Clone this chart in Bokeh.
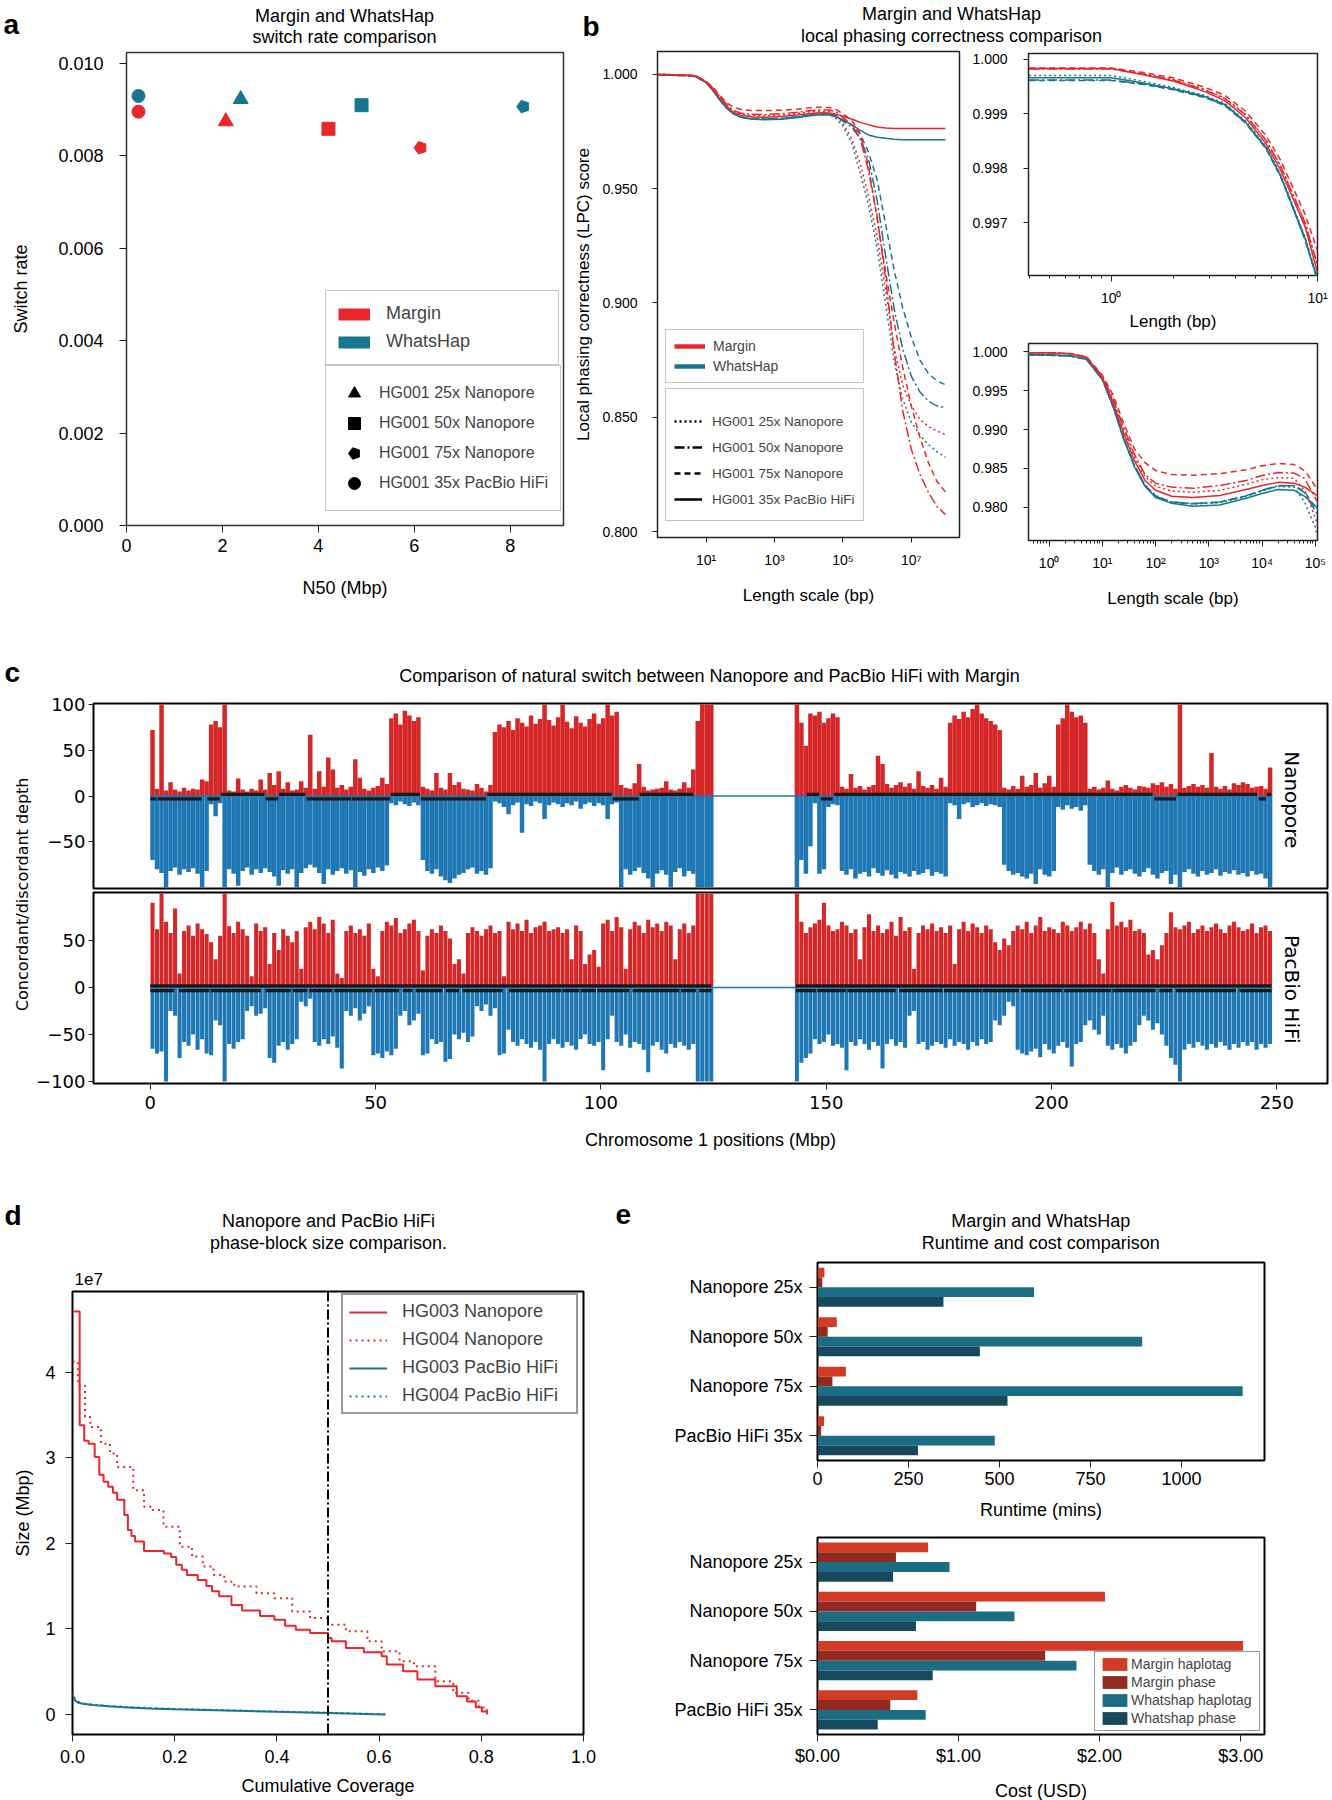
import math
from bokeh.plotting import figure
from bokeh.models import (Range1d, FixedTicker, NumeralTickFormatter, Legend, LegendItem,
                          Label, LogTicker, ColumnDataSource, FactorRange, Span)
from bokeh.layouts import row, column
from bokeh.transform import dodge
from bokeh.embed import file_html
from bokeh.resources import INLINE

# ======================= DATA =======================
# --- panel a: switch rate vs N50 ---
DATASETS = ["HG001 25x Nanopore", "HG001 50x Nanopore", "HG001 75x Nanopore", "HG001 35x PacBio HiFi"]
DATASET_SHAPES = ["triangle", "square", "pentagon", "circle"]
MARGIN_N50_MBP = [2.07, 4.21, 6.13, 0.25]
MARGIN_SWITCH_RATE = [0.00874, 0.00858, 0.00817, 0.00895]
WHATSHAP_N50_MBP = [2.38, 4.90, 8.27, 0.25]
WHATSHAP_SWITCH_RATE = [0.00922, 0.00909, 0.00906, 0.00929]

# --- panel b: local phasing correctness ---
LPC_LENGTH_BP = [0.4, 1, 2.5, 5, 10, 16, 25, 40, 63, 100, 200, 500, 1600, 5000, 1e4, 2e4, 4e4, 6.3e4,
                 1e5, 1.8e5, 3.2e5, 5.6e5, 1e6, 1.8e6, 3.2e6, 5.6e6, 1e7, 1.8e7, 3.2e7, 5.6e7, 1e8]
LPC_MARGIN_25X = [0.99990, 0.99988, 0.99975, 0.99930, 0.99680, 0.99370, 0.99000, 0.98640, 0.98397, 0.98270,
                  0.98209, 0.98193, 0.98219, 0.98295, 0.98356, 0.98382, 0.98372, 0.98219, 0.97863, 0.972,
                  0.961, 0.947, 0.929, 0.905, 0.880, 0.864, 0.855, 0.849, 0.846, 0.844, 0.8424]
LPC_MARGIN_50X = [0.99990, 0.99988, 0.99975, 0.99930, 0.99685, 0.99390, 0.99030, 0.98680, 0.98422, 0.98310,
                  0.98260, 0.98244, 0.98280, 0.98346, 0.98410, 0.98448, 0.98440, 0.98372, 0.98117, 0.978,
                  0.972, 0.958, 0.938, 0.910, 0.878, 0.853, 0.836, 0.825, 0.817, 0.811, 0.8074]
LPC_MARGIN_75X = [0.99990, 0.99988, 0.99978, 0.99940, 0.99700, 0.99440, 0.99084, 0.98753, 0.98575, 0.98473,
                  0.98422, 0.98412, 0.98433, 0.98483, 0.98534, 0.98565, 0.98550, 0.98473, 0.98270, 0.980,
                  0.974, 0.960, 0.937, 0.913, 0.891, 0.872, 0.855, 0.841, 0.830, 0.822, 0.8173]
LPC_MARGIN_HIFI = [0.99990, 0.99988, 0.99975, 0.99930, 0.99669, 0.99338, 0.98957, 0.98600, 0.98346, 0.98219,
                   0.98142, 0.98127, 0.98153, 0.98229, 0.98280, 0.98321, 0.98310, 0.98260, 0.98168, 0.9805,
                   0.9790, 0.9780, 0.9770, 0.9765, 0.9763, 0.9763, 0.9763, 0.9763, 0.9763, 0.9763, 0.9763]
LPC_WHATSHAP_25X = [0.99965, 0.99962, 0.99950, 0.99910, 0.99650, 0.99300, 0.98900, 0.98540, 0.98290, 0.98150,
                    0.98070, 0.98041, 0.98060, 0.98140, 0.98210, 0.98270, 0.98260, 0.98066, 0.97740, 0.970,
                    0.957, 0.943, 0.924, 0.899, 0.874, 0.858, 0.848, 0.842, 0.838, 0.835, 0.8325]
LPC_WHATSHAP_50X = [0.99960, 0.99958, 0.99946, 0.99905, 0.99640, 0.99290, 0.98890, 0.98530, 0.98280, 0.98140,
                    0.98066, 0.98050, 0.98070, 0.98150, 0.98220, 0.98280, 0.98275, 0.98190, 0.97950, 0.977,
                    0.972, 0.963, 0.945, 0.920, 0.897, 0.880, 0.868, 0.861, 0.857, 0.855, 0.8542]
LPC_WHATSHAP_75X = [0.99958, 0.99956, 0.99944, 0.99905, 0.99645, 0.99295, 0.98895, 0.98535, 0.98285, 0.98145,
                    0.98070, 0.98045, 0.98065, 0.98145, 0.98215, 0.98275, 0.98280, 0.98200, 0.98000, 0.978,
                    0.974, 0.966, 0.954, 0.934, 0.914, 0.898, 0.885, 0.875, 0.869, 0.866, 0.8642]
LPC_WHATSHAP_HIFI = [0.99965, 0.99962, 0.99950, 0.99910, 0.99644, 0.99288, 0.98880, 0.98524, 0.98270, 0.98127,
                     0.98051, 0.98015, 0.98031, 0.98117, 0.98178, 0.98229, 0.98219, 0.98142, 0.98015, 0.9780,
                     0.9755, 0.9735, 0.9725, 0.9720, 0.9716, 0.9714, 0.9714, 0.9714, 0.9714, 0.9714, 0.9714]
# zoomed inset (top right)
LPC_ZOOM_LENGTH_BP = [0.4, 1.0, 1.41, 2.0, 2.82, 3.55, 4.47, 5.62, 6.61, 7.59, 8.71, 10.0]
LPC_ZOOM_MARGIN_25X = [0.99983, 0.99983, 0.99974, 0.99963, 0.99945, 0.99929, 0.99899, 0.99852, 0.99805, 0.99753, 0.99700, 0.99620]
LPC_ZOOM_MARGIN_50X = [0.99982, 0.99982, 0.99973, 0.99962, 0.99944, 0.99928, 0.99898, 0.99851, 0.99804, 0.99752, 0.99699, 0.99622]
LPC_ZOOM_MARGIN_75X = [0.99984, 0.99984, 0.99976, 0.99966, 0.99949, 0.99934, 0.99905, 0.99860, 0.99815, 0.99765, 0.99715, 0.99648]
LPC_ZOOM_MARGIN_HIFI = [0.99983, 0.99983, 0.99972, 0.99960, 0.99941, 0.99924, 0.99893, 0.99845, 0.99797, 0.99745, 0.99692, 0.99608]
LPC_ZOOM_WHATSHAP_25X = [0.99970, 0.99970, 0.99960, 0.99948, 0.99934, 0.99919, 0.99887, 0.99840, 0.99789, 0.99731, 0.99673, 0.99598]
LPC_ZOOM_WHATSHAP_50X = [0.99962, 0.99962, 0.99955, 0.99945, 0.99931, 0.99916, 0.99884, 0.99837, 0.99786, 0.99728, 0.99669, 0.99594]
LPC_ZOOM_WHATSHAP_75X = [0.99961, 0.99961, 0.99954, 0.99944, 0.99930, 0.99915, 0.99883, 0.99836, 0.99785, 0.99727, 0.99668, 0.99593]
LPC_ZOOM_WHATSHAP_HIFI = [0.99966, 0.99966, 0.99957, 0.99946, 0.99932, 0.99917, 0.99885, 0.99838, 0.99787, 0.99729, 0.99670, 0.99595]

# --- panel c: concordant / discordant depth per 1 Mbp bin, chromosome 1 ---
P_ARM_START_MBP = 0
Q_ARM_START_MBP = 143
NANO_CONC_P = [72, 8, 100, 6, 15, 7, 5, 9, 6, 8, 7, 18, 16,
               78, 82, 75, 100,
               6, 5, 19, 7, 5, 8, 6, 18, 7, 25, 12, 27, 8, 15, 6, 7, 16, 9, 67,
               8, 27, 10, 42, 29, 9, 12, 7, 10, 40, 20, 8, 6, 9, 11, 20, 13,
               85, 90, 78, 93, 88, 82, 86,
               10, 8, 6, 25, 9, 7, 25, 12, 15, 8, 7, 6, 13, 9, 5, 12,
               70, 78, 75, 82, 72, 85, 80, 76, 88, 79, 84, 100, 83, 77, 86, 100, 81, 74, 87, 80, 76, 84, 90, 79, 85, 100, 88, 92,
               12, 9, 8, 14, 35, 10, 6, 7, 8, 9, 16, 7, 6, 8, 15, 9, 29,
               82, 100, 100, 100]
NANO_DISC_P = [70, 80, 84, 100, 82, 78, 86, 80, 83, 79, 85, 100, 82,
               9, 22, 8, 100,
               80, 85, 98, 82, 78, 86, 80, 84, 79, 83, 88, 98, 81, 85, 80, 100, 84, 79, 75,
               78, 84, 96, 80, 86, 82, 79, 85, 81, 100, 83, 87, 80, 84, 78, 82, 76,
               8, 10, 6, 9, 11, 7, 10,
               70, 82, 85, 80, 88, 92, 95, 90, 86, 84, 80, 78, 85, 82, 86, 79,
               6, 8, 12, 20, 10, 7, 40, 9, 11, 6, 8, 25, 10, 7, 9, 12, 8, 10, 6, 14, 9, 7, 11, 8, 10, 25, 9, 7,
               100, 80, 86, 82, 78, 84, 90, 100, 85, 81, 86, 100, 83, 79, 88, 82, 85,
               100, 100, 100, 100]
NANO_CONC_Q = [100, 80, 55, 90,
               88, 92, 80, 85, 90, 86,
               10, 8, 24, 9, 11, 7, 10, 12, 44, 35, 13, 9, 12, 15, 10, 14, 8, 27, 11, 9, 12, 8, 20, 10,
               80, 88, 84, 92, 86, 95, 100, 90, 85, 82, 78, 72,
               9, 7, 11, 8, 22, 10, 12, 25, 9, 14, 22, 10,
               78, 85, 100, 92, 86, 88, 80,
               8, 10, 7, 9, 17, 8, 6, 10, 12, 9, 7, 11, 10, 9, 14, 12, 15, 10, 13, 8, 100, 9, 11, 13, 10,
               12, 9, 47, 10, 8, 11, 7, 14, 12, 15, 13, 9, 10, 11, 8, 31]
NANO_DISC_Q = [100, 70, 85, 55,
               8, 85, 80, 12, 9, 10,
               82, 86, 80, 90, 85, 83, 88, 79, 84, 87, 81, 86, 90, 83, 85, 88, 82, 86, 84, 80, 87, 83, 85, 88,
               8, 10, 25, 9, 7, 12, 10, 8, 11, 9, 10, 12,
               75, 82, 86, 84, 88, 90, 85, 96, 80, 86, 88, 82,
               12, 15, 10, 14, 12, 16, 10,
               75, 82, 86, 80, 100, 84, 78, 86, 82, 80, 85, 88, 83, 79, 86, 90, 84, 82, 96, 86, 100, 83, 80, 85, 88,
               82, 86, 84, 80, 87, 83, 85, 81, 86, 84, 88, 82, 86, 85, 90, 100]
HIFI_CONC_P = [90, 62, 100, 70, 58, 84, 15, 60, 66, 55,
               68, 62, 57, 48, 30, 55, 100, 65, 58, 70,
               62, 55, 12, 68, 60, 64, 25, 58, 40, 62,
               55, 48, 60, 20, 64, 70, 62, 75, 68, 58,
               72, 15, 10, 60, 66, 58, 62, 55, 68, 20,
               12, 60, 70, 66, 74, 58, 62, 68, 72, 60,
               18, 55, 62, 58, 66, 60, 52, 25, 30, 15,
               58, 64, 60, 55, 62, 66, 58, 60, 12, 70,
               62, 68, 60, 72, 58, 64, 66, 70, 60, 62,
               64, 58, 62, 30, 66, 60, 25, 35, 40, 22,
               68, 72, 60, 75, 64, 20, 62, 70, 66, 58,
               72, 64, 68, 60, 70, 66, 30, 62, 68, 58,
               66, 100, 100, 100, 100]
HIFI_DISC_P = [65, 70, 68, 100, 25, 30, 75, 58, 62, 50,
               66, 55, 70, 72, 35, 40, 100, 60, 65, 58,
               55, 25, 20, 30, 28, 22, 75, 80, 62, 58,
               66, 60, 55, 15, 20, 12, 58, 62, 55, 60,
               52, 64, 86, 25, 30, 22, 35, 28, 20, 72,
               70, 75, 68, 72, 65, 30, 25, 40, 35, 28,
               72, 70, 55, 60, 58, 79, 76, 50, 55, 48,
               58, 52, 20, 25, 18, 30, 22, 72, 70, 45,
               58, 62, 55, 60, 64, 58, 66, 100, 60, 55,
               60, 64, 58, 62, 66, 55, 50, 60, 62, 58,
               88, 55, 30, 58, 62, 50, 64, 58, 60, 66,
               90, 62, 58, 66, 70, 60, 64, 58, 62, 66,
               60, 100, 100, 100, 100]
HIFI_CONC_Q = [100, 70, 58, 64, 68, 72, 90, 66, 60, 62,
               70, 66, 58, 62, 30, 64, 78, 60, 66, 58,
               62, 70, 55, 75, 60, 64, 20, 58, 66, 62,
               68, 60, 64, 58, 66, 25, 62, 70, 60, 68,
               64, 58, 66, 62, 48, 40, 52, 45, 60, 66,
               62, 70, 58, 66, 75, 60, 64, 62, 58, 70,
               66, 60, 64, 70, 62, 68, 58, 30, 15, 62,
               91, 66, 70, 64, 72, 60, 62, 58, 35, 40,
               30, 45, 58, 80, 64, 62, 66, 70, 58, 62,
               66, 60, 64, 68, 62, 58, 66, 70, 64, 60,
               62, 68, 58, 64, 66, 60]
HIFI_DISC_Q = [100, 80, 75, 70, 55, 60, 58, 50, 62, 60,
               64, 88, 58, 62, 55, 60, 66, 58, 62, 86,
               60, 55, 62, 58, 64, 30, 25, 60, 58, 66,
               62, 58, 60, 64, 55, 62, 58, 60, 66, 58,
               62, 55, 60, 58, 35, 40, 30, 15, 20, 66,
               70, 72, 68, 65, 74, 60, 66, 70, 62, 58,
               64, 84, 60, 58, 40, 35, 45, 50, 30, 62,
               66, 60, 64, 70, 62, 58, 40, 30, 35, 45,
               38, 50, 62, 75, 82, 100, 66, 60, 64, 58,
               62, 66, 60, 64, 58, 62, 66, 60, 64, 58,
               62, 58, 66, 60, 64, 60]
# phase blocks (Mbp); level 1 = upper bar, 0 = lower bar
NANO_BLOCK_START = [0, 1.6, 12.7, 15.7, 25.6, 28.6, 34.7, 44.7, 53.4, 60.0, 74.8, 102.6, 108.6,
                    145.7, 148.8, 151.8, 222.8, 228.0, 246.0, 247.8]
NANO_BLOCK_END = [1.4, 11.4, 15.4, 25.3, 28.4, 34.4, 44.5, 53.2, 59.8, 74.5, 102.4, 108.4, 120.5,
                  148.4, 151.4, 222.4, 227.6, 245.6, 247.6, 248.8]
NANO_BLOCK_LEVEL = [0, 0, 0, 1, 0, 1, 0, 0, 1, 0, 1, 0, 1, 1, 0, 1, 0, 1, 0, 1]
HIFI_BLOCK_START = [0, 143.3,
                    0, 6.4, 13.4, 25.6, 31.6, 35.3, 40.8, 49.7, 56.0, 58.9, 65.6, 69.3, 79.6, 91.5, 95.5,
                    99.2, 107.0, 117.8, 121.8, 143.3, 148.0, 154.7, 166.2, 176.1, 184.7, 193.2, 202.8,
                    213.5, 223.9, 227.6, 241.7]
HIFI_BLOCK_END = [124.5, 248.8,
                  5.3, 13.1, 24.5, 31.2, 34.9, 40.4, 49.3, 55.2, 58.2, 64.8, 68.5, 78.2, 91.2, 95.2, 98.9,
                  106.3, 117.4, 121.1, 124.5, 147.7, 154.4, 165.4, 175.8, 184.5, 192.8, 202.4, 213.2,
                  223.1, 226.8, 240.9, 248.8]
HIFI_BLOCK_LEVEL = [1, 1] + [0] * 31

# --- panel d: phase-block size vs cumulative coverage (step corners) ---
HG003_NANO_COV = [0.0, 0.014, 0.023, 0.0315, 0.0434, 0.0524, 0.0608, 0.0699, 0.079, 0.0874,
                  0.1014, 0.1084, 0.1154, 0.1224, 0.1399, 0.179, 0.193, 0.203, 0.214, 0.224,
                  0.245, 0.262, 0.273, 0.287, 0.311, 0.332, 0.367, 0.395, 0.416, 0.437,
                  0.465, 0.5, 0.507, 0.535, 0.570, 0.605, 0.615, 0.647, 0.675, 0.710, 0.752,
                  0.772, 0.789, 0.801, 0.811]
HG003_NANO_SIZE = [4.71e7, 3.38e7, 3.20e7, 3.165e7, 3.01e7, 2.80e7, 2.72e7, 2.66e7, 2.59e7, 2.51e7,
                   2.33e7, 2.155e7, 2.085e7, 2.02e7, 1.91e7, 1.88e7, 1.84e7, 1.75e7, 1.69e7, 1.63e7,
                   1.57e7, 1.50e7, 1.44e7, 1.38e7, 1.28e7, 1.215e7, 1.15e7, 1.107e7, 1.037e7, 0.99e7,
                   0.951e7, 0.893e7, 0.854e7, 0.777e7, 0.726e7, 0.680e7, 0.583e7, 0.505e7, 0.408e7, 0.330e7,
                   0.214e7, 0.15e7, 0.085e7, 0.035e7, 0.0]
HG004_NANO_COV = [0.0, 0.0105, 0.0245, 0.035, 0.0524, 0.056, 0.0734, 0.0874, 0.1189, 0.14, 0.157, 0.178,
                  0.21, 0.234, 0.255, 0.276, 0.297, 0.311, 0.325, 0.36, 0.395, 0.43, 0.465, 0.5, 0.535,
                  0.577, 0.605, 0.64, 0.668, 0.71, 0.745, 0.775, 0.795, 0.811]
HG004_NANO_SIZE = [4.124e7, 3.845e7, 3.476e7, 3.359e7, 3.32e7, 3.165e7, 3.049e7, 2.893e7, 2.621e7, 2.427e7,
                   2.388e7, 2.194e7, 1.961e7, 1.845e7, 1.728e7, 1.631e7, 1.553e7, 1.515e7, 1.495e7, 1.417e7,
                   1.359e7, 1.204e7, 1.126e7, 1.049e7, 0.971e7, 0.854e7, 0.738e7, 0.621e7, 0.563e7, 0.388e7,
                   0.252e7, 0.16e7, 0.08e7, 0.0]
HG003_HIFI_COV = [0, 0.002, 0.005, 0.01, 0.02, 0.04, 0.07, 0.1, 0.15, 0.2, 0.3, 0.4, 0.5, 0.612]
HG003_HIFI_SIZE = [0.24e7, 0.20e7, 0.165e7, 0.14e7, 0.125e7, 0.11e7, 0.095e7, 0.085e7, 0.07e7, 0.06e7,
                   0.045e7, 0.03e7, 0.018e7, 0.0]
HG004_HIFI_COV = [0, 0.002, 0.005, 0.01, 0.02, 0.04, 0.07, 0.1, 0.15, 0.2, 0.3, 0.4, 0.5, 0.619]
HG004_HIFI_SIZE = [0.27e7, 0.22e7, 0.18e7, 0.15e7, 0.13e7, 0.115e7, 0.10e7, 0.09e7, 0.075e7, 0.065e7,
                   0.05e7, 0.035e7, 0.02e7, 0.0]
COVERAGE_THRESHOLD = 0.5

# --- panel e: runtime and cost ---
RUN_CATEGORIES = ["Nanopore 25x", "Nanopore 50x", "Nanopore 75x", "PacBio HiFi 35x"]
RUNTIME_MARGIN_HAPLOTAG = [19, 53, 78, 18]
RUNTIME_MARGIN_PHASE = [13, 28, 41, 10]
RUNTIME_WHATSHAP_HAPLOTAG = [595, 892, 1168, 487]
RUNTIME_WHATSHAP_PHASE = [346, 446, 522, 276]
COST_MARGIN_HAPLOTAG = [0.784, 2.038, 3.017, 0.708]
COST_MARGIN_PHASE = [0.556, 1.125, 1.614, 0.516]
COST_WHATSHAP_HAPLOTAG = [0.936, 1.396, 1.836, 0.767]
COST_WHATSHAP_PHASE = [0.536, 0.698, 0.817, 0.427]

# ======================= STYLE =======================
SANS = "Liberation Sans"
DJV = "DejaVu Sans"
RED = "#e8262b"
TEAL = "#17758f"
C_RED = "#d62728"
C_BLUE = "#1f77b4"
E_COLORS = ["#d23a28", "#912a20", "#1c6c84", "#17485c"]
DASH = {"25x": "2 3", "50x": "10 3 2 3", "75x": "6 4", "HiFi": "solid"}
NAN = float("nan")   # legend-only proxies carry no visible point


def fig(fw, fh, bl, br, bt, bb, **kw):
    p = figure(frame_width=fw, frame_height=fh, min_border_left=bl, min_border_right=br,
               min_border_top=bt, min_border_bottom=bb, output_backend="svg",
               toolbar_location=None, title=None, **kw)
    p.background_fill_color = "white"
    p.border_fill_color = "white"
    p.grid.visible = False
    return p


def blank(w, h):
    p = fig(w, h, 0, 0, 0, 0, x_range=Range1d(0, 1), y_range=Range1d(0, 1),
            x_axis_location=None, y_axis_location=None)
    p.outline_line_color = None
    return p


def style_axis(ax, font, tick_size, label_size=None, tick_out=6, standoff=6, label_standoff=10,
               label_font=None, minor_out=0):
    ax.axis_line_color = None
    ax.major_tick_in = 0
    ax.major_tick_out = tick_out
    ax.minor_tick_in = 0
    ax.minor_tick_out = minor_out
    ax.major_tick_line_color = "#222222"
    ax.minor_tick_line_color = "#222222"
    ax.major_label_text_font = font
    ax.major_label_text_font_size = f"{tick_size}px"
    ax.major_label_text_color = "black"
    ax.major_label_standoff = standoff
    ax.axis_label_text_font = label_font or font
    ax.axis_label_text_font_size = f"{label_size or tick_size}px"
    ax.axis_label_text_font_style = "normal"
    ax.axis_label_text_color = "black"
    ax.axis_label_standoff = label_standoff


def add_text(p, x, y, text, size, font=SANS, align="center", baseline="middle", bold=False, angle=0.0):
    p.add_layout(Label(x=x, y=y, x_units="screen", y_units="screen", text=text,
                       text_font=font, text_font_size=f"{size}px", text_align=align,
                       text_baseline=baseline, text_font_style="bold" if bold else "normal",
                       angle=angle, text_color="black"))


def make_legend(items, loc, size, pad, gw, gh, spacing, standoff, lw, border="#8c8c8c", bw=1.0, **kw):
    return Legend(items=items, location=loc, orientation="vertical", padding=int(pad), spacing=int(spacing),
                  margin=0, glyph_width=int(gw), glyph_height=int(gh), label_height=int(gh),
                  label_width=int(lw), label_standoff=int(standoff), label_text_font=SANS,
                  label_text_font_size=f"{size}px", border_line_color=border, border_line_width=bw,
                  background_fill_color="white", background_fill_alpha=1.0, **kw)


# ======================= PANEL A =======================
pa_head = blank(565, 50)
add_text(pa_head, 3, 25.6, "a", 28, align="left", baseline="alphabetic", bold=True)
add_text(pa_head, 344, 35, "Margin and WhatsHap", 18)
add_text(pa_head, 344, 13.2, "switch rate comparison", 18)

pa = fig(437, 473, 126, 2, 2, 115, x_range=Range1d(0, 9.11), y_range=Range1d(0, 0.01023))
pa.outline_line_color = "#333333"
pa.outline_line_width = 1.5
pa.xaxis.ticker = FixedTicker(ticks=[0, 2, 4, 6, 8])
pa.yaxis.ticker = FixedTicker(ticks=[0, 0.002, 0.004, 0.006, 0.008, 0.010])
pa.yaxis.formatter = NumeralTickFormatter(format="0.000")
pa.xaxis.axis_label = "N50 (Mbp)"
pa.yaxis.axis_label = "Switch rate"
style_axis(pa.xaxis[0], SANS, 18, 18, tick_out=7, standoff=6, label_standoff=23)
style_axis(pa.yaxis[0], SANS, 18, 18, tick_out=7, standoff=16, label_standoff=24)

MARKER_SIZE = {"triangle": 15, "square": 13, "circle": 13}


def shape_glyph(p, shape, xs, ys, color, size=None):
    if shape == "pentagon":
        return p.ngon(x=xs, y=ys, radius=6.5, radius_units="screen", n=5, angle=math.pi / 2,
                      fill_color=color, line_color=color)
    return p.scatter(x=xs, y=ys, marker=shape, size=size or MARKER_SIZE[shape],
                     fill_color=color, line_color=color)


for color, xs, ys in [(RED, MARGIN_N50_MBP, MARGIN_SWITCH_RATE), (TEAL, WHATSHAP_N50_MBP, WHATSHAP_SWITCH_RATE)]:
    for i, shape in enumerate(DATASET_SHAPES):
        shape_glyph(pa, shape, [xs[i]], [ys[i]], color)

la1_items = []
for name, color in [("Margin", RED), ("WhatsHap", TEAL)]:
    r = pa.line(x=[NAN, NAN], y=[NAN, NAN], line_color=color, line_width=12, line_cap="butt")
    la1_items.append(LegendItem(label=name, renderers=[r]))
pa.add_layout(make_legend(la1_items, (199, 160), 18, 12, 32, 20, 7, 16, 160))

la2_items = []
for name, shape in zip(DATASETS, DATASET_SHAPES):
    r = shape_glyph(pa, shape, [NAN], [NAN], "black", size=12)
    la2_items.append(LegendItem(label=name, renderers=[r]))
pa.add_layout(make_legend(la2_items, (199, 14), 16, 12, 32, 30, 0, 9, 168))

# ======================= PANEL B =======================
pbt = blank(767, 48)
add_text(pbt, 17, 22.3, "b", 28, align="left", baseline="alphabetic", bold=True)
add_text(pbt, 386, 34.2, "Margin and WhatsHap", 18)
add_text(pbt, 386, 12.4, "local phasing correctness comparison", 18)

MARGIN_MAIN = [("25x", LPC_MARGIN_25X), ("50x", LPC_MARGIN_50X), ("75x", LPC_MARGIN_75X), ("HiFi", LPC_MARGIN_HIFI)]
WHATSHAP_MAIN = [("25x", LPC_WHATSHAP_25X), ("50x", LPC_WHATSHAP_50X), ("75x", LPC_WHATSHAP_75X), ("HiFi", LPC_WHATSHAP_HIFI)]
MARGIN_ZOOM = [("25x", LPC_ZOOM_MARGIN_25X), ("50x", LPC_ZOOM_MARGIN_50X), ("75x", LPC_ZOOM_MARGIN_75X), ("HiFi", LPC_ZOOM_MARGIN_HIFI)]
WHATSHAP_ZOOM = [("25x", LPC_ZOOM_WHATSHAP_25X), ("50x", LPC_ZOOM_WHATSHAP_50X), ("75x", LPC_ZOOM_WHATSHAP_75X), ("HiFi", LPC_ZOOM_WHATSHAP_HIFI)]


def draw_lpc(p, xs, whatshap, margin):
    for color, series in [(TEAL, whatshap), (RED, margin)]:
        for key, ys in series:
            p.line(xs, ys, line_color=color, line_width=1.5, line_dash=DASH[key])


def lpc_frame(p):
    p.outline_line_color = "#222222"
    p.outline_line_width = 1.5


pbm = fig(302, 486, 92, 10, 3, 103, x_axis_type="log",
          x_range=Range1d(10 ** -0.42, 10 ** 8.41), y_range=Range1d(0.7974, 1.0100))
lpc_frame(pbm)
draw_lpc(pbm, LPC_LENGTH_BP, WHATSHAP_MAIN, MARGIN_MAIN)
pbm.xaxis.ticker = FixedTicker(ticks=[10, 1000, 100000, 10000000])
pbm.xaxis.major_label_overrides = {10: "10¹", 1000: "10³", 100000: "10⁵", 10000000: "10⁷"}
pbm.yaxis.ticker = FixedTicker(ticks=[0.8, 0.85, 0.9, 0.95, 1.0])
pbm.yaxis.formatter = NumeralTickFormatter(format="0.000")
pbm.xaxis.axis_label = "Length scale (bp)"
pbm.yaxis.axis_label = "Local phasing correctness (LPC) score"
style_axis(pbm.xaxis[0], SANS, 14, 17, tick_out=5, standoff=9, label_standoff=15)
style_axis(pbm.yaxis[0], SANS, 14, 17, tick_out=5, standoff=15, label_standoff=6)

lb1_items = []
for name, color in [("Margin", RED), ("WhatsHap", TEAL)]:
    r = pbm.line(x=[NAN, NAN], y=[NAN, NAN], line_color=color, line_width=4.5)
    lb1_items.append(LegendItem(label=name, renderers=[r]))
pbm.add_layout(make_legend(lb1_items, (8, 154), 14, 8, 31, 16, 4, 8, 142))
lb2_items = []
for name, key in zip(DATASETS, ["25x", "50x", "75x", "HiFi"]):
    r = pbm.line(x=[NAN, NAN], y=[NAN, NAN], line_color="black", line_width=2.5, line_dash=DASH[key])
    lb2_items.append(LegendItem(label=name, renderers=[r]))
pbm.add_layout(make_legend(lb2_items, (8, 16), 13.5, 8, 28, 26, 0, 10, 143,
                           title=" ", title_text_font_size="8px", title_standoff=2))

ptr = fig(289, 222, 58, 16, 5, 55, x_axis_type="log",
          x_range=Range1d(10 ** -0.401, 10.0), y_range=Range1d(0.996027, 1.000106))
lpc_frame(ptr)
draw_lpc(ptr, LPC_ZOOM_LENGTH_BP, WHATSHAP_ZOOM, MARGIN_ZOOM)
ptr.xaxis.ticker = FixedTicker(ticks=[1, 10], minor_ticks=[0.4, 0.5, 0.6, 0.7, 0.8, 0.9, 2, 3, 4, 5, 6, 7, 8, 9])
ptr.xaxis.major_label_overrides = {1: "10⁰", 10: "10¹"}
ptr.yaxis.ticker = FixedTicker(ticks=[0.997, 0.998, 0.999, 1.0])
ptr.yaxis.formatter = NumeralTickFormatter(format="0.000")
ptr.xaxis.axis_label = "Length (bp)"
style_axis(ptr.xaxis[0], SANS, 14, 17, tick_out=6, standoff=8, label_standoff=3, minor_out=3)
style_axis(ptr.yaxis[0], SANS, 14, 17, tick_out=5, standoff=16)

pbr = fig(289, 197, 58, 16, 10, 103, x_axis_type="log",
          x_range=Range1d(10 ** -0.388, 10 ** 5.04), y_range=Range1d(0.97573, 1.00108))
lpc_frame(pbr)
draw_lpc(pbr, LPC_LENGTH_BP, WHATSHAP_MAIN, MARGIN_MAIN)
pbr.xaxis.ticker = LogTicker(num_minor_ticks=10, desired_num_ticks=8)
pbr.xaxis.major_label_overrides = {1: "10⁰", 10: "10¹", 100: "10²", 1000: "10³", 10000: "10⁴", 100000: "10⁵"}
pbr.yaxis.ticker = FixedTicker(ticks=[0.98, 0.985, 0.99, 0.995, 1.0])
pbr.yaxis.formatter = NumeralTickFormatter(format="0.000")
pbr.xaxis.axis_label = "Length scale (bp)"
style_axis(pbr.xaxis[0], SANS, 14, 17, tick_out=6, standoff=8, label_standoff=15, minor_out=3)
style_axis(pbr.yaxis[0], SANS, 14, 17, tick_out=5, standoff=16)

# ======================= PANEL C =======================
pct = blank(1332, 48)
add_text(pct, 4, 19, "c", 28, align="left", baseline="alphabetic", bold=True)
add_text(pct, 709, 15.7, "Comparison of natural switch between Nanopore and PacBio HiFi with Margin", 18)

pcl = blank(33, 482)
add_text(pcl, 22, 279.2, "Concordant/discordant depth", 16, font=DJV, angle=math.pi / 2)

PHASE_BOTTOM = {1: 0.0, 0: -5.0}
PHASE_TOP = {1: 3.5, 0: -1.5}


def bins(start, n):
    return [start + i + 0.5 for i in range(n)]


def depth_track(fh, bt, bb, yr, yticks, conc_p, disc_p, conc_q, disc_q, bar_w,
                b_start, b_end, b_level, name, name_y, show_x):
    p = fig(1234, fh, 58, 7, bt, bb, x_range=Range1d(-12.6, 261.25), y_range=Range1d(*yr),
            x_axis_location="below" if show_x else None)
    p.outline_line_color = "black"
    p.outline_line_width = 2
    pos = bins(P_ARM_START_MBP, len(conc_p)) + bins(Q_ARM_START_MBP, len(conc_q))
    conc = conc_p + conc_q
    disc = [-v for v in disc_p + disc_q]
    src = ColumnDataSource(dict(x=pos, conc=conc, disc=disc))
    p.vbar(x="x", top="conc", bottom=0, width=bar_w, source=src, fill_color=C_RED, line_color=None)
    p.vbar(x="x", top=0, bottom="disc", width=bar_w, source=src, fill_color=C_BLUE, line_color=None)
    p.segment(x0=[P_ARM_START_MBP], x1=[Q_ARM_START_MBP + len(conc_q)], y0=[0], y1=[0],
              line_color=C_BLUE, line_width=1.5)
    p.quad(left=b_start, right=b_end, bottom=[PHASE_BOTTOM[l] for l in b_level],
           top=[PHASE_TOP[l] for l in b_level], fill_color="#1a1a1a", line_color=None)
    p.yaxis.ticker = FixedTicker(ticks=yticks)
    style_axis(p.yaxis[0], DJV, 18, tick_out=5, standoff=3)
    if show_x:
        p.xaxis.ticker = FixedTicker(ticks=[0, 50, 100, 150, 200, 250])
        p.xaxis.axis_label = "Chromosome 1 positions (Mbp)"
        style_axis(p.xaxis[0], DJV, 18, 18, tick_out=6, standoff=6, label_standoff=18, label_font=SANS)
    add_text(p, 1198, name_y, name, 20, font=DJV, angle=-math.pi / 2)
    return p


pc1 = depth_track(185, 12, 2, (-101, 101), [-50, 0, 50, 100], NANO_CONC_P, NANO_DISC_P, NANO_CONC_Q,
                  NANO_DISC_Q, 1.0, NANO_BLOCK_START, NANO_BLOCK_END, NANO_BLOCK_LEVEL,
                  "Nanopore", 88.7, False)
pc2 = depth_track(191, 2, 90, (-102, 101), [-100, -50, 0, 50], HIFI_CONC_P, HIFI_DISC_P, HIFI_CONC_Q,
                  HIFI_DISC_Q, 0.9, HIFI_BLOCK_START, HIFI_BLOCK_END, HIFI_BLOCK_LEVEL,
                  "PacBio HiFi", 94.2, True)

# ======================= PANEL D =======================
pd_head = blank(600, 116)
add_text(pd_head, 4, 74, "d", 28, align="left", baseline="alphabetic", bold=True)
add_text(pd_head, 328, 68.6, "Nanopore and PacBio HiFi", 18)
add_text(pd_head, 328, 46.5, "phase-block size comparison.", 18)
add_text(pd_head, 74, 10.7, "1e7", 17, align="left")

pdd = fig(511, 443, 72, 17, 2, 68, x_range=Range1d(0, 1), y_range=Range1d(-0.2345e7, 4.943e7))
pdd.outline_line_color = "black"
pdd.outline_line_width = 2
rd1 = pdd.step(HG003_NANO_COV, HG003_NANO_SIZE, mode="after", line_color=RED, line_width=2)
rd2 = pdd.step(HG004_NANO_COV, HG004_NANO_SIZE, mode="after", line_color=RED, line_width=2, line_dash="2 4")
rd3 = pdd.line(HG003_HIFI_COV, HG003_HIFI_SIZE, line_color=TEAL, line_width=2)
rd4 = pdd.line(HG004_HIFI_COV, HG004_HIFI_SIZE, line_color=TEAL, line_width=2, line_dash="2 4")
pdd.add_layout(Span(location=COVERAGE_THRESHOLD, dimension="height", line_color="black",
                    line_width=2, line_dash="10 3 2 3"))
pdd.xaxis.ticker = FixedTicker(ticks=[0, 0.2, 0.4, 0.6, 0.8, 1.0])
pdd.xaxis.formatter = NumeralTickFormatter(format="0.0")
pdd.yaxis.ticker = FixedTicker(ticks=[0, 10000000, 20000000, 30000000, 40000000])
pdd.yaxis.major_label_overrides = {0: "0", 10000000: "1", 20000000: "2", 30000000: "3", 40000000: "4"}
pdd.xaxis.axis_label = "Cumulative Coverage"
pdd.yaxis.axis_label = "Size (Mbp)"
style_axis(pdd.xaxis[0], SANS, 18, 18, tick_out=7, standoff=8, label_standoff=10)
style_axis(pdd.yaxis[0], SANS, 18, 18, tick_out=7, standoff=10, label_standoff=9)
ld_items = [LegendItem(label="HG003 Nanopore", renderers=[rd1]),
            LegendItem(label="HG004 Nanopore", renderers=[rd2]),
            LegendItem(label="HG003 PacBio HiFi", renderers=[rd3]),
            LegendItem(label="HG004 PacBio HiFi", renderers=[rd4])]
pdd.add_layout(make_legend(ld_items, (269, 320), 18, 6, 38, 20, 7, 15, 168, border="#333333", bw=2))


# ======================= PANEL E =======================
pe_head = blank(732, 87)
add_text(pe_head, 15, 46, "e", 28, align="left", baseline="alphabetic", bold=True)
add_text(pe_head, 440.2, 39.6, "Margin and WhatsHap", 18)
add_text(pe_head, 440.2, 17.5, "Runtime and cost comparison", 18)


def bar_panel(fh, bl, br, bt, bb, xmax, vals, xticks, xlabel):
    p = fig(447, fh, bl, br, bt, bb, x_range=Range1d(0, xmax), y_range=FactorRange(*reversed(RUN_CATEGORIES)))
    p.outline_line_color = "black"
    p.outline_line_width = 2
    src = ColumnDataSource(dict(cat=RUN_CATEGORIES, mh=vals[0], mp=vals[1], wh=vals[2], wp=vals[3]))
    rs = []
    for off, key, color in zip([0.297, 0.099, -0.099, -0.297], ["mh", "mp", "wh", "wp"], E_COLORS):
        rs.append(p.hbar(y=dodge("cat", off, range=p.y_range), right=key, left=0, height=0.198,
                         source=src, fill_color=color, line_color=None))
    p.xaxis.ticker = FixedTicker(ticks=xticks)
    p.xaxis.axis_label = xlabel
    style_axis(p.yaxis[0], SANS, 18, tick_out=8, standoff=7)
    return p, rs


pe1, _ = bar_panel(198, 217, 68, 2, 68, 1228,
                   [RUNTIME_MARGIN_HAPLOTAG, RUNTIME_MARGIN_PHASE, RUNTIME_WHATSHAP_HAPLOTAG, RUNTIME_WHATSHAP_PHASE],
                   [0, 250, 500, 750, 1000], "Runtime (mins)")
style_axis(pe1.xaxis[0], SANS, 18, 18, tick_out=7, standoff=4, label_standoff=12)

pe2, rs2 = bar_panel(197, 217, 68, 9, 68, 3.169,
                     [COST_MARGIN_HAPLOTAG, COST_MARGIN_PHASE, COST_WHATSHAP_HAPLOTAG, COST_WHATSHAP_PHASE],
                     [0, 1, 2, 3], "Cost (USD)")
pe2.xaxis.formatter = NumeralTickFormatter(format="$0.00")
style_axis(pe2.xaxis[0], SANS, 18, 18, tick_out=7, standoff=4, label_standoff=12)
le_items = [LegendItem(label=lab, renderers=[r]) for lab, r in
            zip(["Margin haplotag", "Margin phase", "Whatshap haplotag", "Whatshap phase"], rs2)]
pe2.add_layout(make_legend(le_items, (277, 3), 14, 4, 31, 16, 2, 1, 124, border="#333333", bw=1.5))

# ======================= LAYOUT =======================
layout = column(
    row(column(pa_head, row(pa)), column(pbt, row(pbm, column(ptr, pbr)))),
    column(pct, row(pcl, column(pc1, pc2))),
    row(column(pd_head, row(pdd)), column(pe_head, row(column(pe1, pe2)))),
)

open("out.html", "w").write(file_html(layout, INLINE, "Margin and WhatsHap"))
